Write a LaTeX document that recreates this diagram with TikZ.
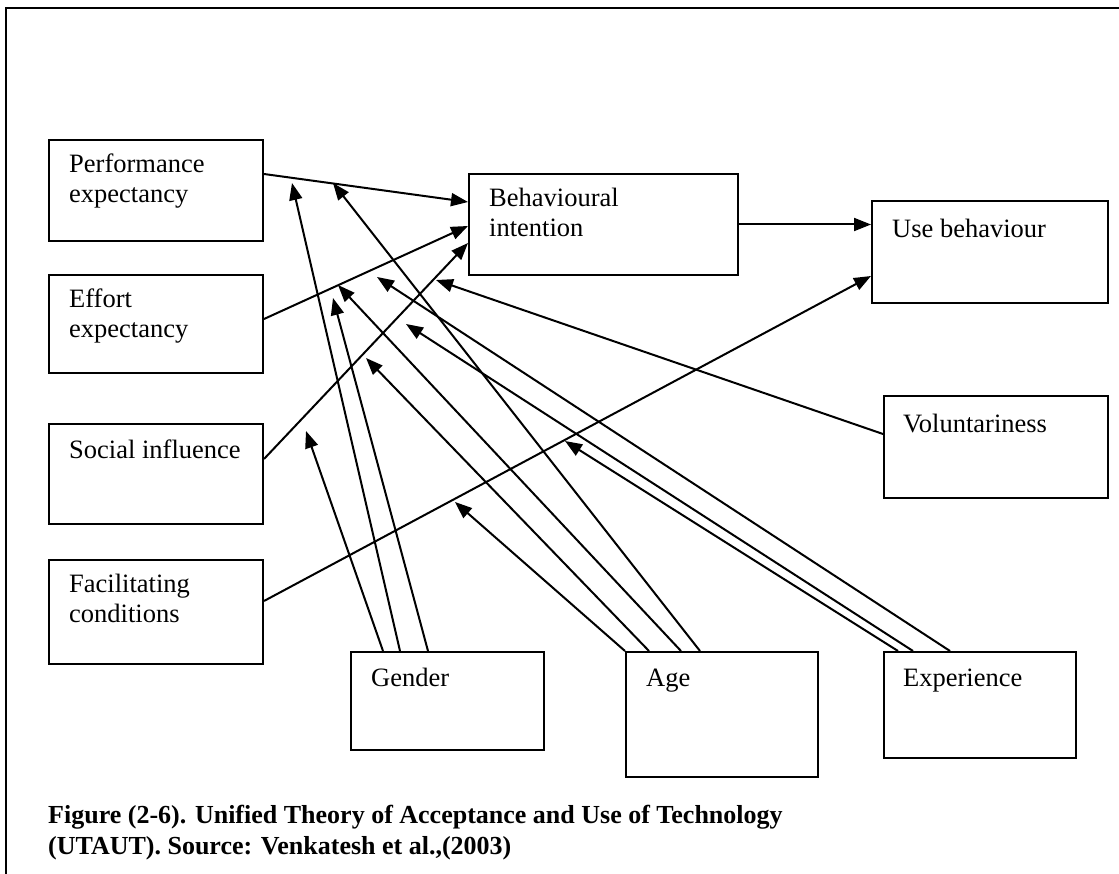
\documentclass[tikz,border=0pt]{standalone}
\usepackage{fontspec}
\setmainfont{Liberation Serif}
\usetikzlibrary{arrows.meta,calc}
\begin{document}
\begin{tikzpicture}[x=1pt,y=-1pt,
  every node/.style={inner sep=0pt},
  box/.style 2 args={draw,line width=2pt,minimum width=#1,minimum height=#2,anchor=north west},
  lbl/.style={anchor=north west,align=left,font=\fontsize{26.5}{30}\selectfont,execute at begin node=\strut},
  link/.style={line width=2pt,-{Triangle[length=17pt,width=13pt]}},
  caption/.style={anchor=north west,align=left,font=\fontsize{26}{31}\selectfont\bfseries,execute at begin node=\strut}]
\useasboundingbox (0,0) rectangle (1119,874);
\clip (0,0) rectangle (1119,874);
% surrounding frame (runs off the page on the right and at the bottom)
\draw[line width=2pt] (6,900) -- (6,8) -- (1140,8);

% construct boxes
\node[box={214pt}{101pt}] (pe)  at (48,139) {};
\node[box={214pt}{98pt}]  (ee)  at (48,274) {};
\node[box={214pt}{100pt}] (si)  at (48,423) {};
\node[box={214pt}{104pt}] (fc)  at (48,559) {};
\node[box={269pt}{101pt}] (bi)  at (468,173) {};
\node[box={236pt}{102pt}] (ub)  at (871,200) {};
\node[box={224pt}{102pt}] (vol) at (883,395) {};
\node[box={193pt}{98pt}]  (gen) at (350,651) {};
\node[box={192pt}{125pt}] (age) at (625,651) {};
\node[box={192pt}{106pt}] (exp) at (883,651) {};

% box labels
\node[lbl] (pe-t)  at ($(pe.north west)+(21,14.5)$)  {Performance\\expectancy};
\node[lbl] (ee-t)  at ($(ee.north west)+(21,14.5)$)  {Effort\\expectancy};
\node[lbl] (si-t)  at ($(si.north west)+(21,14.5)$)  {Social influence};
\node[lbl] (fc-t)  at ($(fc.north west)+(21,14.5)$)  {Facilitating\\conditions};
\node[lbl] (bi-t)  at ($(bi.north west)+(21,14.5)$)  {Behavioural\\intention};
\node[lbl] (ub-t)  at ($(ub.north west)+(21,16)$)    {Use behaviour};
\node[lbl] (vol-t) at ($(vol.north west)+(20,16)$)   {Voluntariness};
\node[lbl] (gen-t) at ($(gen.north west)+(21,14.5)$) {Gender};
\node[lbl] (age-t) at ($(age.north west)+(21,14.5)$) {Age};
\node[lbl] (exp-t) at ($(exp.north west)+(20,14.5)$) {Experience};

% main paths
\draw[link] ([yshift=16.5pt]pe.east) -- ([yshift=22.5pt]bi.west);
\draw[link] ([yshift=5pt]ee.east)    -- ([yshift=-1.5pt]bi.west);
\draw[link] ([yshift=15pt]si.east)   -- ([yshift=-18.5pt]bi.west);
\draw[link] (bi.east) -- (bi.east -| ub.west);
\draw[link] ([yshift=11pt]fc.east)   -- ([yshift=-24pt]ub.west);

% points where the moderator arrows end
\coordinate (m-g-pe) at (292,183);
\coordinate (m-a-pe) at (333,183);
\coordinate (m-g-ee) at (333,298);
\coordinate (m-a-ee) at (338,285);
\coordinate (m-e-ee) at (377,277);
\coordinate (m-g-si) at (306,431);
\coordinate (m-a-si) at (366,358);
\coordinate (m-e-si) at (406,324);
\coordinate (m-v-si) at (436,280);
\coordinate (m-a-fc) at (455,502);
\coordinate (m-e-fc) at (565,441);

% moderators
\draw[link] ([xshift=33pt]gen.north west) -- (m-g-si);
\draw[link] ([xshift=50pt]gen.north west) -- (m-g-pe);
\draw[link] ([xshift=78pt]gen.north west) -- (m-g-ee);
\draw[link] (age.north west)              -- (m-a-fc);
\draw[link] ([xshift=24pt]age.north west) -- (m-a-si);
\draw[link] ([xshift=56pt]age.north west) -- (m-a-ee);
\draw[link] ([xshift=75pt]age.north west) -- (m-a-pe);
\draw[link] ([xshift=15pt]exp.north west) -- (m-e-fc);
\draw[link] ([xshift=30pt]exp.north west) -- (m-e-si);
\draw[link] ([xshift=67pt]exp.north west) -- (m-e-ee);
\draw[link] ([yshift=13pt]vol.west)       -- (m-v-si);

% caption
\node[caption] (cap) at (48,805.3) {Figure (2-6). Unified Theory of Acceptance and Use of Technology\\(UTAUT). Source: Venkatesh et al.,(2003)};
\end{tikzpicture}
\end{document}
